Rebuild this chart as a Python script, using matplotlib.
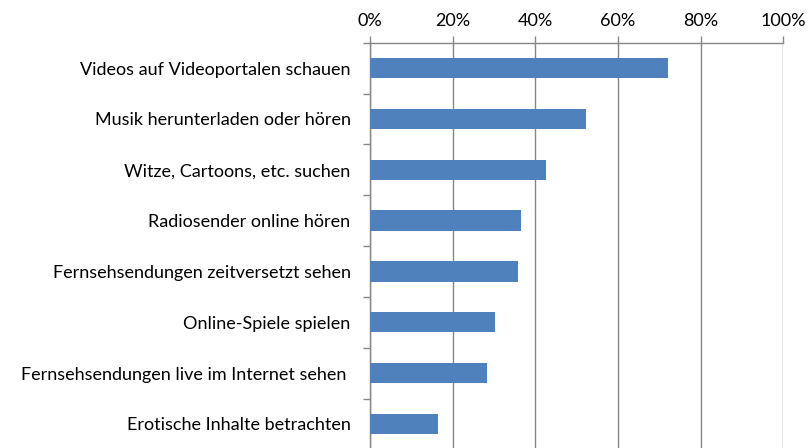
import matplotlib
matplotlib.use("Agg")
import matplotlib.pyplot as plt
import numpy as np
from matplotlib.ticker import FixedLocator, PercentFormatter

categories = [
    "Videos auf Videoportalen schauen",
    "Musik herunterladen oder hören",
    "Witze, Cartoons, etc. suchen",
    "Radiosender online hören",
    "Fernsehsendungen zeitversetzt sehen",
    "Online-Spiele spielen",
    "Fernsehsendungen live im Internet sehen ",
    "Erotische Inhalte betrachten",
]
values = [72.0, 52.3, 42.5, 36.5, 35.9, 30.3, 28.2, 16.5]
xticks = [0, 20, 40, 60, 80, 100]

plt.rcParams['font.family'] = ['Lato', 'DejaVu Sans']

fig = plt.figure(figsize=(8.09, 4.48), dpi=100)
ax = fig.add_axes([370/809, 1-449.4/448, 413.3/809, (449.4-42.7)/448])

n = len(categories)
y = np.arange(n)
ax.barh(y, values, height=0.40, color="#4F81BD", zorder=3)
ax.set_ylim(n - 0.5, -0.5)
ax.set_xlim(0, 100)

gray = "#868686"
ax.xaxis.set_major_locator(FixedLocator(xticks))
ax.xaxis.set_major_formatter(PercentFormatter(decimals=0))
ax.xaxis.tick_top()
ax.grid(axis="x", color=gray, linewidth=1.0, zorder=0)
ax.tick_params(axis="x", which="major", direction="out", length=5, width=1.0,
               color=gray, labelsize=13, labelcolor="#000000", pad=5)

ax.set_yticks(y)
ax.set_yticklabels(categories)
ax.set_yticks(np.arange(n + 1) - 0.5, minor=True)
ax.tick_params(axis="y", which="major", length=0, labelsize=13, labelcolor="#000000", pad=14)
ax.tick_params(axis="y", which="minor", direction="out", length=5, width=1.0, color=gray)

for side in ["right", "bottom"]:
    ax.spines[side].set_visible(False)
ax.spines["top"].set_color(gray)
ax.spines["left"].set_color(gray)
ax.spines["top"].set_linewidth(1.0)
ax.spines["left"].set_linewidth(1.0)

fig.savefig("out.png", dpi=100)
